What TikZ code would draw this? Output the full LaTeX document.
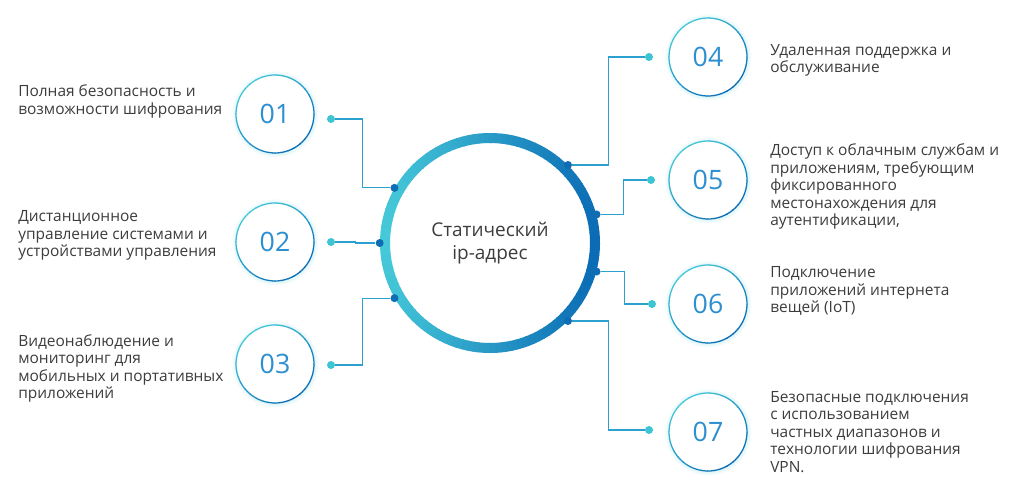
\documentclass[tikz,border=0pt]{standalone}
\usepackage{fontspec}
\setmainfont{Open Sans}
\usetikzlibrary{calc,positioning,shadows}
\definecolor{ipcyan}{RGB}{69,200,216}
\definecolor{ipblue}{RGB}{11,108,181}
\definecolor{ipline}{RGB}{44,160,207}
\definecolor{ipdot}{RGB}{62,197,211}
\definecolor{iphub}{RGB}{15,109,179}
\definecolor{ipnum}{RGB}{45,143,208}
\definecolor{iptext}{RGB}{60,60,60}
\tikzset{
  hub/.style={circle, minimum size=5.5cm, inner sep=0pt, font=\fontsize{13.5}{16}\selectfont,
    text=iptext, align=center},
  num/.style={circle, minimum size=1.95cm, inner sep=0pt, fill=white,
    circular glow={fill=ipcyan, opacity=0.25, shadow scale=1.12},
    font=\fontsize{19}{19}\selectfont, text=ipnum},
  txt/.style={inner sep=0pt, font=\fontsize{11}{12.45}\selectfont, text=iptext, align=left},
  link/.style={draw=ipline, line width=0.8pt},
  odot/.style={circle, fill=ipdot, minimum size=0.2cm, inner sep=0pt},
  hdot/.style={circle, fill=iphub, minimum size=0.2cm, inner sep=0pt}
}
\begin{document}
\begin{tikzpicture}[x=0.025cm, y=-0.025cm]
  \useasboundingbox (0,0) rectangle (1024,499);
  \node[hub] (hub) at (490,243) {Статический\\ip-адрес};
  \foreach \a in {0,3,...,357} {
    \pgfmathsetmacro\m{50+50*cos(\a)}
    \draw[ipblue!\m!ipcyan, line width=0.25cm] (hub.center) ++(\a:105) arc[start angle=\a, end angle=\a+3.5, radius=105];
  }
  \node[num] (n1) at (275,114) {01};
  \node[num] (n2) at (275,242) {02};
  \node[num] (n3) at (275,364) {03};
  \node[num] (n4) at (708,57) {04};
  \node[num] (n5) at (708,180) {05};
  \node[num] (n6) at (708,304) {06};
  \node[num] (n7) at (708,432) {07};
  \foreach \n in {n1,n2,n3,n4,n5,n6,n7} {
    \foreach \a in {0,10,...,350} {
      \pgfmathsetmacro\m{50+50*cos(\a-45)}
      \draw[ipblue!\m!ipcyan, line width=0.9pt] (\n.center) ++(\a:39) arc[start angle=\a, end angle=\a+11, radius=39];
    }
  }
  \node[odot] (o1) at (331,119) {};
  \node[odot] (o2) at (331,242) {};
  \node[odot] (o3) at (331,365) {};
  \node[odot] (o4) at (649,57) {};
  \node[odot] (o5) at (651,180) {};
  \node[odot] (o6) at (652,304) {};
  \node[odot] (o7) at (649,430) {};
  \foreach \i/\a in {1/150,2/180,3/210,4/45,5/15,6/345,7/315} {
    \node[hdot] (h\i) at (hub.\a) {};
    \draw[link] (h\i) -| ($(h\i)!.5!(o\i)$) |- (o\i);
  }
  \node[txt, anchor=west] (t1) at (18,101.5) {Полная безопасность и\\возможности шифрования};
  \node[txt, anchor=west] (t2) at (18,235.5) {Дистанционное\\управление системами и\\устройствами управления};
  \node[txt, anchor=west] (t3) at (18,368.5) {Видеонаблюдение и\\мониторинг для\\мобильных и портативных\\приложений};
  \node[txt, anchor=west] (t4) at (770,60.5) {Удаленная поддержка и\\обслуживание};
  \node[txt, anchor=west] (t5) at (770,186.5) {Доступ к облачным службам и\\приложениям, требующим\\фиксированного\\местонахождения для\\аутентификации,};
  \node[txt, anchor=west] (t6) at (770,291) {Подключение\\приложений интернета\\вещей (IoT)};
  \node[txt, anchor=west] (t7) at (770,432) {Безопасные подключения\\с использованием\\частных диапазонов и\\технологии шифрования\\VPN.};
\end{tikzpicture}
\end{document}
